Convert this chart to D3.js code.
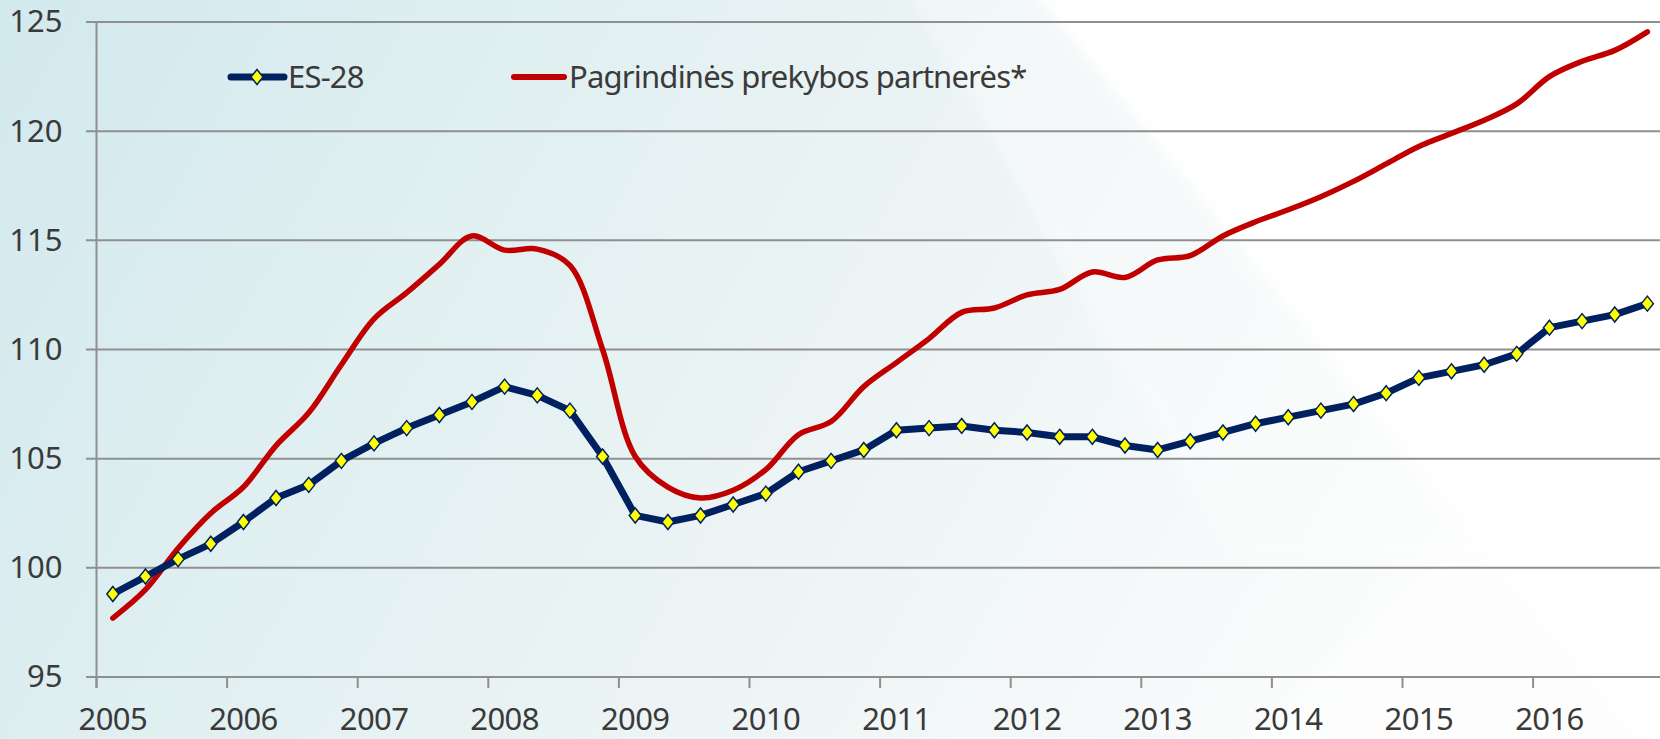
<!DOCTYPE html>
<html>
<head>
<meta charset="utf-8">
<script src="https://cdn.jsdelivr.net/npm/d3@7"></script>
<style>
  body { margin: 0; background: #ffffff; }
  svg { display: block; }
  text { font-family: "Noto Sans", "Open Sans", sans-serif; fill: #3a3a3a; }
</style>
</head>
<body>
<svg id="chart" width="1660" height="739"></svg>
<script>
// years on the axis, each one split into quarters
const years = ['2005', '2006', '2007', '2008', '2009', '2010', '2011', '2012', '2013', '2014', '2015', '2016'];
const quarterNames = ['I', 'II', 'III', 'IV'];
const quarters = years.flatMap(y => quarterNames.map(q => y + ' ' + q));

// ES-28 (quarterly)
const es28 = [98.8, 99.6, 100.4, 101.1, 102.1, 103.2, 103.8, 104.9, 105.7, 106.4, 107.0, 107.6,
              108.3, 107.9, 107.2, 105.1, 102.4, 102.1, 102.4, 102.9, 103.4, 104.4, 104.9, 105.4,
              106.3, 106.4, 106.5, 106.3, 106.2, 106.0, 106.0, 105.6, 105.4, 105.8, 106.2, 106.6,
              106.9, 107.2, 107.5, 108.0, 108.7, 109.0, 109.3, 109.8, 111.0, 111.3, 111.6, 112.1];

// main trade partners (quarterly)
const partners = [97.7, 99.0, 100.9, 102.5, 103.7, 105.6, 107.1, 109.3, 111.4, 112.6, 113.9, 115.2,
                  114.55, 114.6, 113.85, 110.0, 105.1, 103.7, 103.2, 103.55, 104.5, 106.1, 106.7, 108.3,
                  109.4, 110.5, 111.7, 111.9, 112.5, 112.75, 113.55, 113.3, 114.1, 114.3, 115.2, 115.85,
                  116.4, 117.0, 117.7, 118.5, 119.3, 119.9, 120.5, 121.25, 122.5, 123.2, 123.7, 124.55];

const yTicks = [95, 100, 105, 110, 115, 120, 125];
const seriesNames = ['ES-28', 'Pagrindinės prekybos partnerės*'];

const svg = d3.select('#chart');
const W = 1660, H = 739;

// background: pale teal on the left, fading to white with a diagonal light band
const defs = svg.append('defs');
const bg = defs.append('linearGradient').attr('id', 'bg').attr('x1', 0).attr('y1', 0).attr('x2', 1).attr('y2', 0.25);
bg.append('stop').attr('offset', 0).attr('stop-color', '#d2e9ee');
bg.append('stop').attr('offset', 0.35).attr('stop-color', '#e2f0f1');
bg.append('stop').attr('offset', 0.62).attr('stop-color', '#edf4f5');
bg.append('stop').attr('offset', 1).attr('stop-color', '#fbfcfc');
defs.append('filter').attr('id', 'soft')
    .attr('x', -0.2).attr('y', -0.2).attr('width', 1.4).attr('height', 1.4)
    .append('feGaussianBlur').attr('stdDeviation', 7);

svg.append('rect').attr('width', W).attr('height', H).attr('fill', 'url(#bg)');
svg.append('path')
    .attr('d', 'M890,-40 L1010,-40 L1500,560 L1230,560 Z')
    .attr('fill', '#ffffff').attr('opacity', 0.35).attr('filter', 'url(#soft)');
svg.append('path')
    .attr('d', 'M1005,-40 L1720,-40 L1720,800 L1690,800 Z')
    .attr('fill', '#ffffff').attr('filter', 'url(#soft)');
svg.append('path')
    .attr('d', 'M1200,780 L1720,780 L1720,300 Z')
    .attr('fill', '#ffffff').attr('opacity', 0.5).attr('filter', 'url(#soft)');

// scales
const x = d3.scaleBand().domain(quarters).range([96.5, 96.5 + 48 * 32.65]).padding(0);
const y = d3.scaleLinear().domain([95, 125]).range([677, 22]);
const half = x.bandwidth() / 2;

// gridlines
svg.append('g')
    .selectAll('line')
    .data(yTicks)
    .join('line')
    .attr('x1', 86).attr('x2', W)
    .attr('y1', d => y(d)).attr('y2', d => y(d))
    .attr('stroke', '#8f8f8f').attr('stroke-width', 2);

// y axis
const yAxis = svg.append('g')
    .attr('transform', 'translate(' + x.range()[0] + ',0)')
    .call(d3.axisLeft(y).tickValues(yTicks).tickSize(0).tickPadding(34));
yAxis.select('.domain').remove();
yAxis.selectAll('text').attr('font-size', 31).attr('fill', '#3a3a3a');
svg.append('line')
    .attr('x1', x.range()[0]).attr('x2', x.range()[0])
    .attr('y1', y(125)).attr('y2', 688)
    .attr('stroke', '#8f8f8f').attr('stroke-width', 2);

// x axis: ticks between years, labels under first quarter
const firstQuarters = quarters.filter((q, i) => i % 4 === 0);
const xAxis = svg.append('g')
    .attr('transform', 'translate(0,' + y(95) + ')')
    .call(d3.axisBottom(x).tickValues(firstQuarters).tickSize(11).tickPadding(20)
        .tickFormat(d => d.slice(0, 4)));
xAxis.select('.domain').remove();
xAxis.selectAll('.tick line').attr('x1', -half).attr('x2', -half)
    .attr('stroke', '#8f8f8f').attr('stroke-width', 2);
xAxis.selectAll('text').attr('font-size', 31).attr('fill', '#3a3a3a').attr('letter-spacing', -0.6);

// red smoothed line
const pos = (v, i) => [x(quarters[i]) + half, y(v)];
const smooth = d3.line().x((d, i) => pos(d, i)[0]).y((d, i) => pos(d, i)[1]).curve(d3.curveCatmullRom.alpha(0.5));
svg.append('path')
    .datum(partners)
    .attr('d', smooth)
    .attr('fill', 'none').attr('stroke', '#c00000').attr('stroke-width', 5.5)
    .attr('stroke-linecap', 'round').attr('stroke-linejoin', 'round');

// ES-28 line with diamond markers
const straight = d3.line().x((d, i) => pos(d, i)[0]).y((d, i) => pos(d, i)[1]);
svg.append('path')
    .datum(es28)
    .attr('d', straight)
    .attr('fill', 'none').attr('stroke', '#002060').attr('stroke-width', 7)
    .attr('stroke-linejoin', 'round');

const diamond = 'M0,-7.5 L6,0 L0,7.5 L-6,0 Z';
svg.append('g')
    .selectAll('path')
    .data(es28)
    .join('path')
    .attr('transform', (d, i) => 'translate(' + pos(d, i)[0] + ',' + pos(d, i)[1] + ')')
    .attr('d', diamond)
    .attr('fill', '#ffff00').attr('stroke', '#002060').attr('stroke-width', 1.5);

// legend
const legend = svg.append('g');
legend.append('line')
    .attr('x1', 231).attr('x2', 284).attr('y1', 77).attr('y2', 77)
    .attr('stroke', '#002060').attr('stroke-width', 7).attr('stroke-linecap', 'round');
legend.append('path')
    .attr('transform', 'translate(257,77)').attr('d', diamond)
    .attr('fill', '#ffff00').attr('stroke', '#002060').attr('stroke-width', 1.5);
legend.append('text').attr('x', 288).attr('y', 88).attr('font-size', 31)
    .attr('letter-spacing', -0.8).text(seriesNames[0]);
legend.append('line')
    .attr('x1', 514).attr('x2', 564).attr('y1', 77).attr('y2', 77)
    .attr('stroke', '#c00000').attr('stroke-width', 6).attr('stroke-linecap', 'round');
legend.append('text').attr('x', 569).attr('y', 88).attr('font-size', 31)
    .attr('letter-spacing', -0.8).text(seriesNames[1]);
</script>
</body>
</html>
